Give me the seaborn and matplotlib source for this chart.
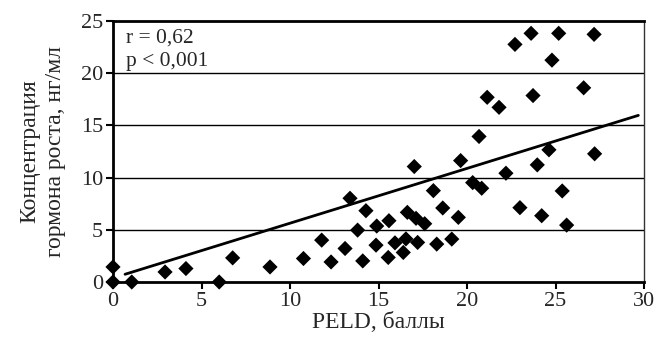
import numpy as np
import pandas as pd
import seaborn as sns
import matplotlib
matplotlib.use("Agg")
import matplotlib.pyplot as plt

# PELD score vs growth hormone concentration
peld = [0.0, 0.0, 1.06, 2.94, 4.12, 6.0, 6.76, 8.87, 10.76, 11.79, 12.32, 13.11,
        13.39, 13.82, 14.11, 14.29, 14.86, 14.90, 15.55, 15.59, 15.93, 16.40,
        16.55, 16.63, 17.02, 17.12, 17.21, 17.61, 18.10, 18.29, 18.63, 19.14,
        19.51, 19.64, 20.32, 20.68, 20.83, 21.14, 21.81, 22.20, 22.71, 22.99,
        23.62, 23.73, 23.97, 24.22, 24.63, 24.80, 25.18, 25.38, 25.63, 26.59,
        27.18, 27.21]
hormone = [1.44, 0.0, 0.0, 0.96, 1.29, 0.0, 2.31, 1.44, 2.25, 4.01, 1.92, 3.21,
           8.02, 4.97, 2.02, 6.83, 3.53, 5.36, 2.35, 5.87, 3.75, 2.83,
           4.13, 6.67, 11.06, 6.10, 3.79, 5.58, 8.75, 3.63, 7.09, 4.11,
           6.19, 11.63, 9.52, 13.94, 8.98, 17.69, 16.73, 10.42, 22.76, 7.12,
           23.82, 17.86, 11.22, 6.35, 12.66, 21.25, 23.82, 8.72, 5.45, 18.60,
           23.72, 12.28]
trend_x = [0.68, 29.68]
trend_y = [0.74, 15.96]
x_ticks = [0, 5, 10, 15, 20, 25, 30]
y_ticks = [0, 5, 10, 15, 20, 25]

df = pd.DataFrame({"peld": peld, "gh": hormone})

sns.set_style("white")
plt.rcParams["font.family"] = ["Liberation Serif", "DejaVu Serif"]

fig = plt.figure(figsize=(6.71, 3.42), dpi=100)
ax = fig.add_axes([113 / 671, 1 - 282 / 342, (644 - 113) / 671, (282 - 21) / 342])

for yv in y_ticks[1:-1]:
    ax.axhline(yv, color="black", lw=1.0, zorder=0)

sns.lineplot(x=trend_x, y=trend_y, color="black", lw=2, ax=ax, zorder=2)
sns.scatterplot(data=df, x="peld", y="gh", marker="D", s=60, color="black",
                edgecolor="none", ax=ax, zorder=3, clip_on=False)

ax.set_xlim(0, 30)
ax.set_ylim(0, 25)
ax.set_xticks(x_ticks)
ax.set_yticks(y_ticks)
ax.set_xlabel("PELD, баллы", fontsize=17, labelpad=1)
ax.set_ylabel("Концентрация\nгормона роста, нг/мл", fontsize=17, labelpad=11,
              linespacing=1.25)

for side in ["left", "bottom"]:
    ax.spines[side].set_linewidth(2.0)
    ax.spines[side].set_color("black")
ax.spines["top"].set_linewidth(2.0)
ax.spines["top"].set_color("black")
ax.spines["right"].set_linewidth(1.0)
ax.spines["right"].set_color("#333333")
ax.tick_params(axis="both", direction="out", length=5, width=1.5,
               color="black", labelsize=16, pad=2, bottom=True, left=True)

ax.text(0.025, 0.97, "r = 0,62\np < 0,001", transform=ax.transAxes,
        ha="left", va="top", fontsize=15.5, linespacing=1.3)

fig.savefig("out.png", dpi=100)
